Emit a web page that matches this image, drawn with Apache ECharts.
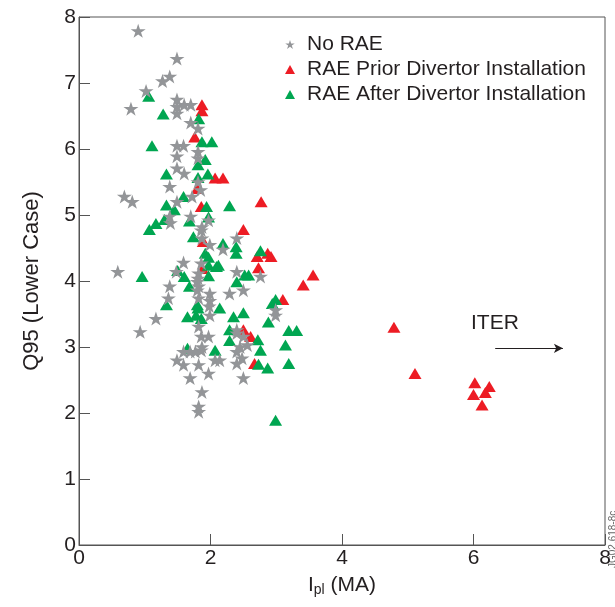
<!DOCTYPE html>
<html>
<head>
<meta charset="utf-8">
<script src="https://cdn.jsdelivr.net/npm/echarts@6/dist/echarts.min.js"></script>
<style>html,body{margin:0;padding:0;background:#fff;}#c{width:615px;height:607px;}</style>
</head>
<body>
<div id="c"></div>
<script>
// ---- data ----
const xTicks = [0, 2, 4, 6, 8];
const yTicks = [0, 1, 2, 3, 4, 5, 6, 7, 8];
const seriesNames = ['No RAE', 'RAE Prior Divertor Installation', 'RAE After Divertor Installation'];

const noRAE = [
 [0.90,7.79],[1.49,7.37],[1.38,7.10],[1.27,7.03],[1.02,6.88],[0.79,6.61],[1.49,6.75],[1.49,6.64],
 [1.60,6.67],[1.70,6.67],[1.49,6.54],[1.70,6.40],[1.81,6.31],[1.49,6.05],[1.59,6.05],[1.81,5.96],
 [1.49,5.89],[1.81,5.86],[1.49,5.71],[1.60,5.63],[1.81,5.50],[1.38,5.43],[1.85,5.38],[1.72,5.28],
 [0.69,5.28],[0.81,5.20],[1.49,5.20],[1.70,4.98],[1.38,4.98],[1.39,4.88],[1.97,4.92],[1.87,4.82],
 [1.86,4.77],[2.40,4.65],[1.87,4.65],[1.99,4.55],[2.19,4.48],[1.59,4.28],[1.86,4.27],[0.59,4.14],
 [1.48,4.14],[1.82,4.12],[2.40,4.14],[2.76,4.07],[1.81,4.04],[1.80,3.99],[1.38,3.92],[1.82,3.92],
 [1.80,3.86],[2.50,3.86],[2.29,3.81],[1.99,3.81],[1.36,3.74],[1.82,3.74],[1.99,3.70],[1.98,3.62],
 [1.99,3.48],[1.17,3.43],[1.82,3.31],[0.93,3.23],[1.86,3.16],[1.97,3.16],[1.87,3.00],[2.99,3.56],
 [2.99,3.48],[2.40,3.26],[2.50,3.16],[2.56,3.03],[2.40,3.21],[2.45,3.00],[2.40,2.93],[2.48,2.83],
 [2.40,2.75],[2.50,2.53],[1.49,2.80],[1.59,2.73],[1.59,2.93],[1.69,2.93],[1.77,2.93],[1.86,2.95],
 [1.82,2.73],[2.07,2.80],[2.14,2.80],[1.97,2.60],[1.69,2.53],[1.87,2.32],[1.82,2.10],[1.82,2.02]
];

const raePrior = [
 [1.87,6.67],[1.87,6.58],[1.76,6.18],[2.07,5.56],[2.19,5.56],[2.77,5.20],[1.86,5.13],[1.80,5.40],
 [2.50,4.78],[1.89,4.60],[2.71,4.37],[2.87,4.42],[2.92,4.37],[2.73,4.20],[1.88,4.19],[3.56,4.09],
 [3.41,3.94],[3.10,3.72],[2.50,3.26],[2.61,3.16],[2.67,2.75],[4.79,3.30],[5.11,2.60],[6.02,2.46],
 [6.00,2.28],[6.24,2.40],[6.18,2.31],[6.13,2.12]
];

const raeAfter = [
 [1.06,6.80],[1.28,6.53],[1.82,6.46],[1.11,6.05],[1.87,6.11],[2.02,6.11],[1.92,5.84],[1.81,5.76],
 [1.33,5.62],[1.96,5.62],[1.81,5.57],[2.29,5.14],[1.59,5.28],[1.94,5.13],[1.33,5.15],[1.45,5.08],
 [1.97,4.97],[1.68,4.91],[1.30,4.93],[1.17,4.87],[1.07,4.78],[1.74,4.67],[2.19,4.57],[2.39,4.52],
 [2.39,4.42],[1.92,4.42],[2.76,4.46],[2.12,4.24],[1.97,4.24],[1.97,4.36],[0.96,4.07],[1.50,4.16],
 [1.60,4.07],[2.09,4.22],[1.97,4.08],[1.68,3.92],[2.40,3.99],[2.52,4.09],[2.58,4.09],[2.99,3.72],
 [2.94,3.66],[2.88,3.38],[1.81,3.59],[1.33,3.64],[1.65,3.46],[1.78,3.48],[1.86,3.43],[2.14,3.59],
 [2.50,3.52],[2.35,3.46],[1.80,3.64],[3.19,3.25],[3.31,3.25],[2.29,3.26],[2.29,3.10],[2.72,3.11],
 [2.76,2.95],[3.14,3.03],[2.07,2.95],[1.65,2.98],[3.19,2.75],[2.87,2.68],[2.73,2.74],[2.99,1.89]
];

const iterArrow = [[6.33, 2.98], [7.36, 2.98]];

// ---- chart ----
const FONT = '"Liberation Sans", Arial, Helvetica, sans-serif';
const TXT = '#231f20';
const AX = '#555';
const STAR = 'path://M50,0 L62,36 L100,36 L69,58 L81,95 L50,72 L19,95 L31,58 L0,36 L38,36 Z';

const chart = echarts.init(document.getElementById('c'), null, {renderer: 'canvas'});
chart.setOption({
  animation: false,
  backgroundColor: '#fff',
  textStyle: {fontFamily: FONT},
  grid: {left: 79, right: 10, top: 17, bottom: 62, show: true, borderColor: AX, borderWidth: 1, backgroundColor: 'transparent'},
  legend: {
    orient: 'vertical', left: 280, top: 29,
    itemWidth: 10, itemHeight: 9, itemGap: 4,
    textStyle: {fontSize: 21, color: TXT, fontFamily: FONT, lineHeight: 21, padding: [0, 0, 0, 7]},
    data: [
      {name: seriesNames[0], icon: STAR},
      {name: seriesNames[1], icon: 'triangle'},
      {name: seriesNames[2], icon: 'triangle'}
    ]
  },
  xAxis: {
    type: 'value', min: xTicks[0], max: xTicks[xTicks.length-1], interval: 2,
    axisLine: {show: true, lineStyle: {color: AX, width: 1}},
    axisTick: {show: true, inside: true, length: 11, lineStyle: {color: AX}},
    axisLabel: {fontSize: 21, color: TXT, margin: 3, fontFamily: FONT},
    splitLine: {show: false},
    name: '{i|I}{s|pl}{i| (MA)}', nameLocation: 'middle', nameGap: 28,
    nameTextStyle: {rich: {i: {fontSize: 21, color: TXT, fontFamily: FONT}, s: {fontSize: 14, color: TXT, fontFamily: FONT, padding: [10,0,0,0]}}}
  },
  yAxis: {
    type: 'value', min: yTicks[0], max: yTicks[yTicks.length-1], interval: 1,
    axisLine: {show: true, lineStyle: {color: AX, width: 1}},
    axisTick: {show: true, inside: true, length: 11, lineStyle: {color: AX}},
    axisLabel: {fontSize: 21, color: TXT, margin: 3, fontFamily: FONT},
    splitLine: {show: false},
    name: 'Q95 (Lower Case)', nameLocation: 'middle', nameGap: 36,
    nameTextStyle: {fontSize: 22, color: TXT, fontFamily: FONT}
  },
  series: [
    {name: seriesNames[1], type: 'scatter', data: raePrior, symbol: 'triangle', symbolSize: [13, 11], z: 2,
     itemStyle: {color: '#ed1c24', opacity: 1},
     markLine: {silent: true, symbol: ['none', 'arrow'], symbolSize: [7, 9], label: {show: false},
       lineStyle: {color: '#231f20', width: 1, type: 'solid'},
       data: [[{coord: iterArrow[0]}, {coord: iterArrow[1]}]]}},
    {name: seriesNames[2], type: 'scatter', data: raeAfter, symbol: 'triangle', symbolSize: [13, 11], z: 3,
     itemStyle: {color: '#00a651', opacity: 1}},
    {name: seriesNames[0], type: 'scatter', data: noRAE, symbol: STAR, symbolSize: [15, 14], z: 4,
     itemStyle: {color: '#939598', opacity: 1}}
  ],
  graphic: [
    {type: 'text', left: 471, top: 313, style: {text: 'ITER', fontSize: 21, fill: TXT, fontFamily: FONT}},
    {type: 'text', x: 608, y: 568, rotation: Math.PI/2, style: {text: 'JG02.618-8c', fontSize: 10, fill: '#666', fontFamily: FONT}}
  ]
});
</script>
</body>
</html>
